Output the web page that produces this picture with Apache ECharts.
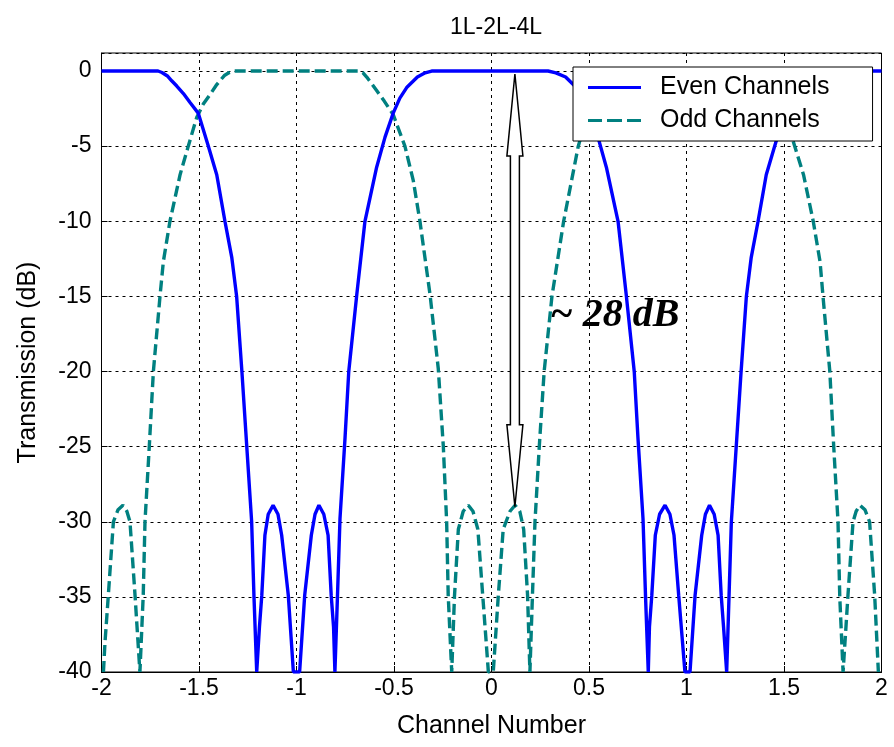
<!DOCTYPE html>
<html>
<head>
<meta charset="utf-8">
<script src="https://cdn.jsdelivr.net/npm/echarts@6/dist/echarts.min.js"></script>
<style>
html,body{margin:0;padding:0;background:#fff;}
#chart{width:894px;height:747px;}
</style>
</head>
<body>
<div id="chart"></div>
<script>
// ---- data ----
const titleText = '1L-2L-4L';
const xName = 'Channel Number';
const yName = 'Transmission (dB)';
const seriesNames = ['Even Channels', 'Odd Channels'];

const evenX = [-2.00,-1.71,-1.69,-1.66,-1.64,-1.614,-1.58,-1.546,-1.504,-1.452,-1.409,-1.367,-1.332,-1.307,-1.28,-1.255,-1.23,-1.218,-1.204,
  -1.19,-1.178,-1.162,-1.145,-1.12,-1.095,-1.076,-1.042,-1.016,
  -0.984,-0.958,-0.924,-0.905,-0.885,-0.86,-0.838,-0.822,-0.81,-0.803,
  -0.79,-0.777,-0.751,-0.732,-0.691,-0.649,-0.589,-0.546,-0.504,-0.47,-0.435,-0.38,-0.34,-0.307,
  0.29,0.33,0.38,0.435,0.47,0.504,0.546,0.589,0.649,0.691,0.732,0.751,0.777,0.79,0.804,
  0.81,0.822,0.84,0.862,0.89,0.915,0.936,0.96,0.992,
  1.018,1.044,1.078,1.097,1.118,1.142,1.162,1.178,1.19,1.206,
  1.218,1.23,1.255,1.28,1.307,1.332,1.367,1.409,1.452,1.504,1.546,1.58,1.614,1.64,1.66,1.69,1.71,2.00];
const evenY = [0,0,-0.1,-0.35,-0.65,-1.0,-1.5,-2.1,-2.8,-5.0,-6.9,-10.0,-12.4,-15.0,-20.0,-25.0,-30.0,-35.0,-40,
  -37,-34.9,-30.9,-29.5,-28.9,-29.5,-30.9,-34.9,-40,
  -40,-34.9,-30.9,-29.5,-28.9,-29.5,-30.9,-34.9,-37,-40,
  -35,-29.8,-24.4,-20,-14.9,-10,-6.4,-4.4,-2.8,-1.8,-1.1,-0.4,-0.12,0,
  0,-0.12,-0.4,-1.1,-1.8,-2.8,-4.4,-6.4,-10,-14.9,-20,-24.4,-29.8,-35,-40,
  -37,-34.9,-30.9,-29.5,-28.9,-29.5,-30.9,-34.9,-40,
  -40,-34.9,-30.9,-29.5,-28.9,-29.5,-30.9,-34.9,-37,-40,
  -35,-30,-25,-20,-15,-12.4,-10,-6.9,-5,-2.8,-2.1,-1.5,-1.0,-0.65,-0.35,-0.1,0,0];

const oddX = [-1.99,-1.982,-1.965,-1.939,-1.915,-1.89,-1.87,-1.854,-1.828,-1.803,
  -1.786,-1.777,-1.755,-1.734,-1.70,-1.683,-1.649,-1.597,-1.555,-1.512,-1.478,-1.44,-1.409,-1.37,-1.345,-1.324,
  -0.683,-0.66,-0.64,-0.589,-0.55,-0.504,-0.444,-0.401,-0.367,-0.315,-0.273,-0.247,-0.23,-0.222,-0.204,
  -0.19,-0.17,-0.145,-0.119,-0.095,-0.07,-0.045,-0.016,
  0.009,0.035,0.06,0.095,0.121,0.145,0.165,0.185,0.197,
  0.21,0.223,0.245,0.27,0.31,0.37,0.445,0.49,0.53,0.58,0.64,0.66,0.683,
  1.32,1.345,1.37,1.41,1.44,1.48,1.51,1.555,1.60,1.65,1.685,1.70,1.735,1.755,1.777,1.786,1.803,
  1.828,1.854,1.87,1.89,1.915,1.939,1.965,1.984];
const oddY = [-40,-38,-34.9,-30,-29.2,-28.9,-29.3,-30,-34.9,-40,
  -34.9,-30,-25,-20,-15,-12.7,-10,-6.9,-5,-3.1,-2.2,-1.5,-0.9,-0.3,-0.1,0,
  0,-0.1,-0.4,-1.3,-2.0,-2.9,-5,-7.3,-10,-14.9,-19.8,-25,-30,-34.9,-40,
  -35,-30.5,-29.3,-28.9,-29.3,-30.5,-34.9,-40,
  -40,-34.9,-30.5,-29.3,-28.9,-29.3,-30.5,-34.9,-40,
  -34.9,-30,-25,-20,-15,-10,-5,-3,-2.0,-1.3,-0.4,-0.1,0,
  0,-0.1,-0.3,-0.9,-1.5,-2.2,-3.1,-5,-6.9,-10,-12.7,-15,-20,-25,-30,-35,-40,
  -34.9,-30,-29.3,-28.9,-29.2,-30,-34.9,-40];

const arrowX = 0.12;        // annotation arrow position (data units)
const arrowTop = -0.2;
const arrowBottom = -29;
const noteText = '~ 28 dB';
const noteX = 0.30;
const noteY = -16.3;

// ---- chart ----
const chart = echarts.init(document.getElementById('chart'), null, {renderer: 'canvas'});
const pair = (xs, ys) => xs.map((x, i) => [x, ys[i]]);
const FONT = 'Liberation Sans, Arial, sans-serif';

const gridLine = {show: true, lineStyle: {color: '#000', type: [3, 4], width: 1}};

const option = {
  backgroundColor: '#fff',
  animation: false,
  title: {
    text: titleText, left: 491, top: 11, textAlign: 'center',
    textStyle: {fontFamily: FONT, fontSize: 23, fontWeight: 'normal', color: '#000'}
  },
  grid: {left: 101.5, right: 12.5, top: 53, bottom: 75, show: true, borderColor: '#000', borderWidth: 1, backgroundColor: '#fff'},
  legend: {
    data: [
      {name: seriesNames[0], icon: 'path://M0,0H53V3H0Z'},
      {name: seriesNames[1], icon: 'path://M0,0H14V3H0Z M19,0H34V3H19Z M39,0H53V3H39Z'}
    ],
    orient: 'vertical', left: 573, top: 67,
    padding: [8, 43, 8, 15],
    itemWidth: 53, itemHeight: 3.2, itemGap: 8,
    backgroundColor: '#fff', borderColor: '#000', borderWidth: 1, borderRadius: 0,
    textStyle: {fontFamily: FONT, fontSize: 25, color: '#000', padding: [0, 0, 0, 14]},
    z: 10
  },
  xAxis: {
    type: 'value', min: -2, max: 2, interval: 0.5,
    name: xName, nameLocation: 'middle', nameGap: 42,
    nameTextStyle: {fontFamily: FONT, fontSize: 25, color: '#000'},
    axisLine: {show: true, onZero: false, lineStyle: {color: '#000', width: 1}},
    axisTick: {show: true, inside: true, length: 6, lineStyle: {color: '#000'}},
    axisLabel: {fontFamily: FONT, fontSize: 23, color: '#000', margin: 5,
      formatter: v => String(v)},
    splitLine: gridLine
  },
  yAxis: {
    type: 'value', min: -40, max: 1.2, interval: 5,
    name: yName, nameLocation: 'middle', nameGap: 61, nameRotate: 90,
    nameTextStyle: {fontFamily: FONT, fontSize: 25, color: '#000'},
    axisLine: {show: true, onZero: false, lineStyle: {color: '#000', width: 1}},
    axisTick: {show: true, inside: true, length: 6, lineStyle: {color: '#000'}},
    axisLabel: {fontFamily: FONT, fontSize: 23, color: '#000', margin: 10, showMaxLabel: false,
      formatter: v => (Math.abs(v % 5) < 1e-9 ? String(v) : '')},
    splitLine: gridLine
  },
  series: [
    {
      name: seriesNames[0], type: 'line', data: pair(evenX, evenY),
      symbol: 'none', clip: true, z: 3,
      lineStyle: {color: '#0000ff', width: 3.4, type: 'solid'},
      itemStyle: {color: '#0000ff'}
    },
    {
      name: seriesNames[1], type: 'line', data: pair(oddX, oddY),
      symbol: 'none', clip: true, z: 2,
      lineStyle: {color: '#008080', width: 3.4, type: [11, 5]},
      itemStyle: {color: '#008080'}
    },
    {
      type: 'custom', silent: true, z: 5,
      data: [[arrowX, arrowTop, arrowBottom]],
      renderItem: function (params, api) {
        const t = api.coord([api.value(0), api.value(1)]);
        const b = api.coord([api.value(0), api.value(2)]);
        const cx = t[0], ty = t[1], by = b[1];
        const hl = 82, hw = 8, sw = 4.5;
        return {
          type: 'polygon',
          shape: {points: [
            [cx, ty], [cx + hw, ty + hl], [cx + sw, ty + hl], [cx + sw, by - hl], [cx + hw, by - hl],
            [cx, by], [cx - hw, by - hl], [cx - sw, by - hl], [cx - sw, ty + hl], [cx - hw, ty + hl]
          ]},
          style: {fill: '#fff', stroke: '#000', lineWidth: 1.5}
        };
      }
    },
    {
      type: 'custom', silent: true, z: 6,
      data: [[noteX, noteY]],
      renderItem: function (params, api) {
        const p = api.coord([api.value(0), api.value(1)]);
        return {
          type: 'text',
          x: p[0], y: p[1],
          style: {
            text: noteText, fill: '#000',
            font: 'italic bold 40px "Liberation Serif", "Times New Roman", serif',
            textAlign: 'left', textVerticalAlign: 'middle'
          }
        };
      }
    }
  ]
};
chart.setOption(option);
</script>
</body>
</html>
